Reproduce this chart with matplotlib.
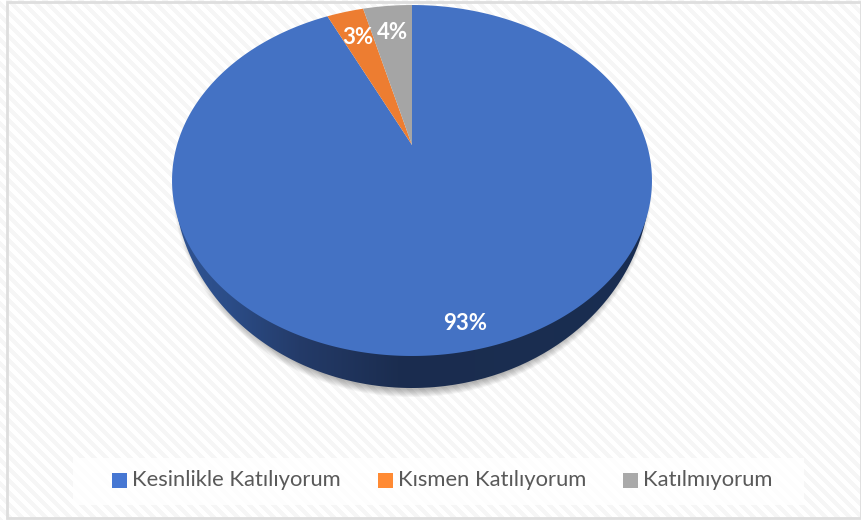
import numpy as np
import matplotlib
matplotlib.use('Agg')
import matplotlib.pyplot as plt
from matplotlib.patches import Polygon, Rectangle

categories = ['Kesinlikle Katılıyorum', 'Kısmen Katılıyorum', 'Katılmıyorum']
values = [93, 3, 4]
labels = ['93%', '3%', '4%']
colors = ['#4472C4', '#ED7D31', '#A5A5A5']
legend_colors = ['#4677D3', '#FF8A33', '#A9A9A9']

plt.rcParams['font.family'] = ['Lato', 'DejaVu Sans']

W, H = 862, 520
fig = plt.figure(figsize=(W / 100, H / 100), dpi=100)
ax = fig.add_axes([0, 0, 1, 1])
ax.set_xlim(0, W)
ax.set_ylim(H, 0)
ax.axis('off')

# diagonal stripes in the background
yy, xx = np.mgrid[0:H, 0:W]
stripes = ((xx - yy) % 12 < 6).astype(float)
bg = 0.962 + 0.038 * stripes
ax.imshow(bg, cmap='gray', vmin=0, vmax=1, extent=(0, W, H, 0), aspect='auto', zorder=0, interpolation='nearest')

# chart border
ax.add_patch(Rectangle((7, 1.5), 854, 516, fill=False, ec='#DEDEDE', lw=2, zorder=1))

# pie seen in perspective, apex is not the middle of the ellipse
cx, apex_y = 412, 145
k = 0.2023
a, b = 235, 168.3
mid_y = 180.5


def project(theta):
    # theta clockwise from the top of the pie
    u, v = np.sin(theta), np.cos(theta)
    w = 1 + k * v
    return cx + a * u / w, apex_y - b * v / w


# lower half only, the rim hides the ends
half = np.linspace(0, np.pi, 361)

# soft shadow under the pie
for grow in np.linspace(8, 1, 8):
    ax.fill(cx + (232 + grow) * np.cos(half), mid_y + 1 + (207.5 + grow) * np.sin(half),
            color='black', alpha=0.04, lw=0, zorder=2)

# side wall with gradient, outer edge is a slightly narrower, taller ellipse
wall = Polygon(np.c_[cx + 238 * np.cos(half), mid_y + 207.5 * np.sin(half)],
               closed=True, fc='none', ec='none', zorder=3)
ax.add_patch(wall)
stops_x = [172, 230, 300, 400, 652]
stops_r = [0.19, 0.17, 0.14, 0.105, 0.10]
stops_g = [0.33, 0.30, 0.23, 0.175, 0.18]
stops_b = [0.58, 0.53, 0.41, 0.31, 0.32]
grad_x = np.arange(172, 653)
grad = np.dstack([np.interp(grad_x, stops_x, stops_r),
                  np.interp(grad_x, stops_x, stops_g),
                  np.interp(grad_x, stops_x, stops_b)])
im = ax.imshow(grad, extent=(172, 653, 395, 170), aspect='auto', zorder=3)
im.set_clip_path(wall)
ax.set_xlim(0, W)
ax.set_ylim(H, 0)

# top of the pie, clockwise from 12 o'clock: blue, orange, gray
start = 0.0
for val, col in zip(values, colors):
    ang = np.linspace(start, start + val / sum(values) * 2 * np.pi, max(int(val * 8), 8))
    px, py = project(ang)
    ax.fill(np.r_[cx, px], np.r_[apex_y, py], color=col, lw=0, zorder=4)
    start = ang[-1]

ax.text(465, 324, labels[0], color='white', fontsize=16, fontweight='bold', ha='center', va='center', zorder=5)
ax.text(358, 38, labels[1], color='white', fontsize=16, fontweight='bold', ha='center', va='center', zorder=5)
ax.text(392.5, 32.5, labels[2], color='white', fontsize=16, fontweight='bold', ha='center', va='center', zorder=5)

# legend
ax.add_patch(Rectangle((73, 458), 731, 47, fc='white', ec='none', alpha=0.8, zorder=1))
legend_x = [112, 378, 623.5]
for lx, name, col in zip(legend_x, categories, legend_colors):
    ax.add_patch(Rectangle((lx, 473), 15, 15, fc=col, ec='none', zorder=5))
    ax.text(lx + 20, 480, name, color='#595959', fontsize=15.8, ha='left', va='center', zorder=5)

fig.savefig('out.png', dpi=100)
